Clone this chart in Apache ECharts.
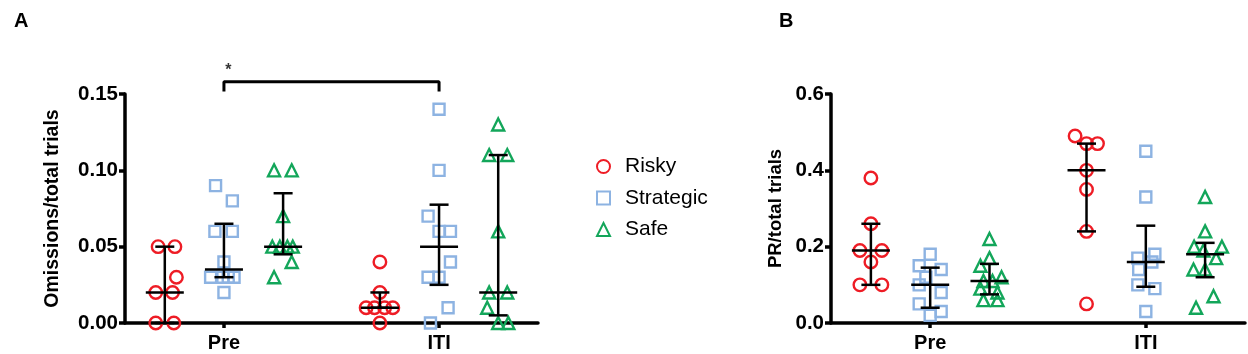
<!DOCTYPE html>
<html>
<head>
<meta charset="utf-8">
<script src="https://cdn.jsdelivr.net/npm/echarts@6/dist/echarts.min.js"></script>
<style>
  html, body { margin: 0; padding: 0; background: #fff; }
  #chart { width: 1248px; height: 354px; }
</style>
</head>
<body>
<div id="chart"></div>
<script>
// categories on the x axis (Pre = 1, ITI = 2)
const phases = ['Pre', 'ITI'];
const groups = ['Risky', 'Strategic', 'Safe'];
const groupShift = [-0.275, 0, 0.275];

// panel A: omissions / total trials, [phase, jitter, value]
const omitRisky = [
    [1, -0.031, 0.05], [1, 0.047, 0.05], [1, 0.054, 0.03], [1, -0.042, 0.02], [1, 0.036, 0.02], [1, -0.042, 0], [1, 0.042, 0],
    [2, 0, 0.04], [2, 0, 0.02], [2, -0.064, 0.01], [2, -0.025, 0.01], [2, 0.022, 0.01], [2, 0.06, 0.01], [2, 0, 0]
];
const omitStrategic = [
    [1, -0.039, 0.09], [1, 0.039, 0.08], [1, -0.042, 0.06], [1, 0.039, 0.06], [1, 0, 0.04],
    [1, -0.062, 0.03], [1, -0.005, 0.03], [1, 0.047, 0.03], [1, 0.02, 0.03], [1, 0, 0.02],
    [2, 0, 0.14], [2, 0, 0.10], [2, -0.051, 0.07], [2, 0, 0.06], [2, 0.053, 0.06],
    [2, 0.053, 0.04], [2, -0.051, 0.03], [2, 0, 0.03], [2, 0.042, 0.01], [2, -0.04, 0]
];
const omitSafe = [
    [1, -0.042, 0.10], [1, 0.04, 0.10], [1, 0, 0.07], [1, -0.05, 0.05], [1, -0.015, 0.05], [1, 0.02, 0.05], [1, 0.045, 0.05],
    [1, 0.04, 0.04], [1, -0.042, 0.03],
    [2, 0, 0.13], [2, -0.042, 0.11], [2, 0.042, 0.11], [2, 0, 0.06], [2, -0.042, 0.02], [2, 0.042, 0.02],
    [2, -0.051, 0.01], [2, 0, 0], [2, 0.047, 0]
];
// median, lower, upper for each group: [phase, group, median, low, high]
const omitBars = [
    [1, 0, 0.02, 0, 0.05], [1, 1, 0.035, 0.03, 0.065], [1, 2, 0.05, 0.045, 0.085],
    [2, 0, 0.01, 0.01, 0.02], [2, 1, 0.05, 0.025, 0.0775], [2, 2, 0.02, 0.005, 0.11]
];

// panel B: PR / total trials
const prRisky = [
    [1, 0, 0.38], [1, 0, 0.26], [1, -0.051, 0.19], [1, 0.051, 0.19], [1, 0, 0.16], [1, -0.051, 0.10], [1, 0.051, 0.10],
    [2, -0.053, 0.49], [2, 0, 0.47], [2, 0.051, 0.47], [2, 0, 0.40], [2, 0, 0.35], [2, 0, 0.24], [2, 0, 0.05]
];
const prStrategic = [
    [1, 0, 0.18], [1, -0.051, 0.15], [1, 0.051, 0.14], [1, -0.02, 0.12], [1, -0.051, 0.10],
    [1, 0.051, 0.08], [1, -0.051, 0.05], [1, 0.051, 0.03], [1, 0, 0.02],
    [2, 0, 0.45], [2, 0, 0.33], [2, 0.042, 0.18], [2, -0.037, 0.17], [2, 0.028, 0.16],
    [2, -0.033, 0.14], [2, -0.037, 0.10], [2, 0.042, 0.09], [2, 0, 0.03]
];
const prSafe = [
    [1, 0, 0.22], [1, 0, 0.17], [1, -0.042, 0.15], [1, 0.056, 0.12], [1, 0.014, 0.11], [1, -0.028, 0.11],
    [1, -0.042, 0.09], [1, 0.037, 0.08], [1, -0.028, 0.06], [1, 0.037, 0.06],
    [2, 0, 0.33], [2, 0, 0.24], [2, -0.051, 0.20], [2, 0.078, 0.20], [2, -0.008, 0.19], [2, 0.051, 0.17],
    [2, -0.054, 0.14], [2, 0, 0.14], [2, 0.039, 0.07], [2, -0.042, 0.04]
];
const prBars = [
    [1, 0, 0.19, 0.10, 0.26], [1, 1, 0.10, 0.04, 0.145], [1, 2, 0.11, 0.075, 0.155],
    [2, 0, 0.40, 0.24, 0.47], [2, 1, 0.16, 0.095, 0.255], [2, 2, 0.18, 0.12, 0.21]
];

// significance bracket Pre-Strategic vs ITI-Strategic
const bracket = [[1, 0.1517], [1, 0.158], [2, 0.158], [2, 0.1517]];
const starPos = [[1.02, 0.1655]];

const colors = ['#ee1c25', '#8db3e2', '#13a65a'];
const symbols = ['circle', 'rect', 'triangle'];
const symbolSizes = [12.5, 11, 12];
const font = 'Arial, "Liberation Sans", sans-serif';

function toXY(list, g) {
    return list.map(d => [d[0] + groupShift[g] + d[1], d[2]]);
}

function renderErrorBar(params, api) {
    const x = api.value(0);
    const pMed = api.coord([x, api.value(1)]);
    const pLo = api.coord([x, api.value(2)]);
    const pHi = api.coord([x, api.value(3)]);
    const cap = 9.5, half = 19;
    const style = { stroke: '#000', lineWidth: 2.5 };
    return {
        type: 'group',
        children: [
            { type: 'line', shape: { x1: pLo[0], y1: pLo[1], x2: pHi[0], y2: pHi[1] }, style },
            { type: 'line', shape: { x1: pHi[0] - cap, y1: pHi[1], x2: pHi[0] + cap, y2: pHi[1] }, style },
            { type: 'line', shape: { x1: pLo[0] - cap, y1: pLo[1], x2: pLo[0] + cap, y2: pLo[1] }, style },
            { type: 'line', shape: { x1: pMed[0] - half, y1: pMed[1], x2: pMed[0] + half, y2: pMed[1] }, style }
        ]
    };
}

function barData(list) {
    return list.map(d => [d[0] + groupShift[d[1]], d[2], d[3], d[4]]);
}

function xAxisFor(idx) {
    return {
        type: 'value', gridIndex: idx, min: 0.54, max: 2.46,
        splitLine: { show: false },
        axisLine: { lineStyle: { color: '#000', width: 3.5 } },
        axisTick: { customValues: [1, 2], length: 5, lineStyle: { color: '#000', width: 3.5 } },
        axisLabel: {
            customValues: [1, 2], margin: 10,
            color: '#000', fontSize: 20, fontWeight: 'bold', fontFamily: font,
            formatter: v => phases[Math.round(v) - 1]
        }
    };
}

function yAxisFor(idx, max, step, digits, name, gap, nameSize) {
    return {
        type: 'value', gridIndex: idx, min: 0, max: max, interval: step,
        name: name, nameLocation: 'middle', nameGap: gap, nameRotate: 90,
        nameTextStyle: { color: '#000', fontSize: nameSize, fontWeight: 'bold', fontFamily: font },
        splitLine: { show: false },
        axisLine: { show: true, lineStyle: { color: '#000', width: 3.5 } },
        axisTick: { show: true, length: 6, lineStyle: { color: '#000', width: 3.5 } },
        axisLabel: {
            margin: 7, color: '#000', fontSize: 20.5, fontWeight: 'bold', fontFamily: font,
            formatter: v => v.toFixed(digits)
        }
    };
}

const panels = [
    [omitRisky, omitStrategic, omitSafe],
    [prRisky, prStrategic, prSafe]
];

const series = [];
panels.forEach((sets, p) => {
    sets.forEach((list, g) => {
        series.push({
            name: groups[g], type: 'scatter',
            xAxisIndex: p, yAxisIndex: p,
            symbol: symbols[g], symbolSize: symbolSizes[g],
            itemStyle: { color: 'rgba(0,0,0,0)', borderColor: colors[g], borderWidth: 2.4, opacity: 1 },
            data: toXY(list, g),
            clip: false, z: 2
        });
    });
    series.push({
        type: 'custom', xAxisIndex: p, yAxisIndex: p,
        renderItem: renderErrorBar,
        encode: { x: 0, y: [1, 2, 3] },
        data: barData(p === 0 ? omitBars : prBars),
        clip: false, z: 3
    });
});

series.push({
    type: 'line', xAxisIndex: 0, yAxisIndex: 0,
    data: bracket, symbol: 'none', clip: false,
    lineStyle: { color: '#000', width: 3 }, z: 3
});
series.push({
    type: 'scatter', xAxisIndex: 0, yAxisIndex: 0,
    data: starPos, symbolSize: 1, clip: false,
    itemStyle: { color: 'rgba(0,0,0,0)' },
    label: {
        show: true, position: 'inside', formatter: '*',
        color: '#000', fontSize: 16, fontWeight: 'bold', fontFamily: font
    }
});

const chart = echarts.init(document.getElementById('chart'));
chart.setOption({
    animation: false,
    backgroundColor: '#fff',
    title: [
        { text: 'A', left: 9, top: 6, textStyle: { fontSize: 20, fontWeight: 'bold', color: '#000', fontFamily: font } },
        { text: 'B', left: 774, top: 6, textStyle: { fontSize: 20, fontWeight: 'bold', color: '#000', fontFamily: font } }
    ],
    legend: {
        orient: 'vertical', left: 591, top: 151,
        itemWidth: 13, itemHeight: 13, itemGap: 10.5,
        data: groups.map((n, i) => ({ name: n, icon: symbols[i] })),
        textStyle: { fontSize: 21, color: '#000', fontFamily: font, padding: [0, 0, 0, 10] }
    },
    grid: [
        { left: 125, right: 710, top: 94, bottom: 31 },
        { left: 831, right: 3, top: 94, bottom: 31 }
    ],
    xAxis: [xAxisFor(0), xAxisFor(1)],
    yAxis: [
        yAxisFor(0, 0.15, 0.05, 2, 'Omissions/total trials', 62, 19.5),
        yAxisFor(1, 0.6, 0.2, 1, 'PR/total trials', 46, 18.5)
    ],
    series: series
});
</script>
</body>
</html>
